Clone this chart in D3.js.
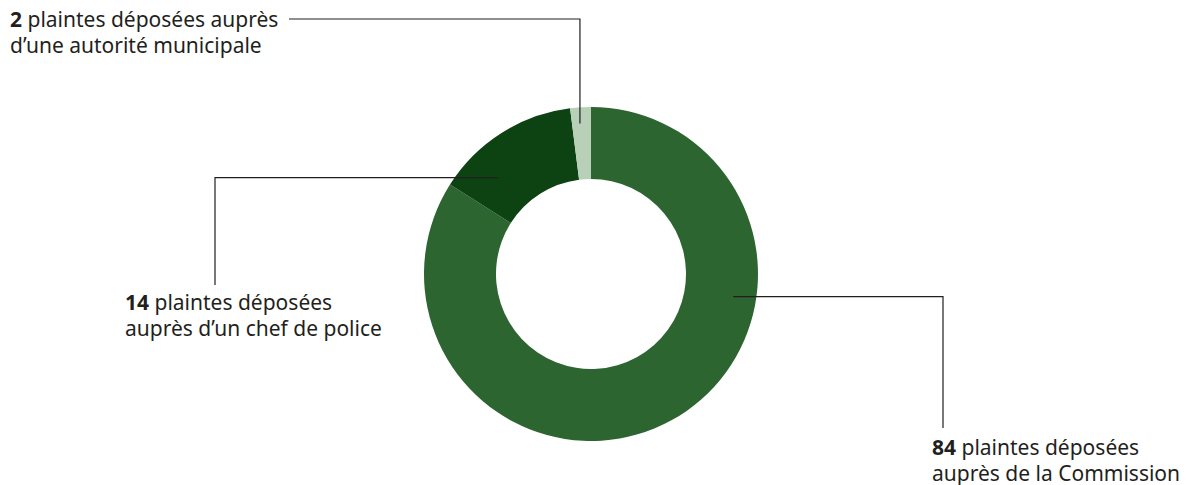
<!DOCTYPE html>
<html>
<head>
    <meta charset="UTF-8">
    <title>Plaintes</title>
    <script src="https://cdn.jsdelivr.net/npm/d3@7"></script>
    <style>
        body { margin: 0; background: #fff; }
        text { font-family: "Noto Sans", "Open Sans", sans-serif; fill: #231f20; }
    </style>
</head>
<body>
<script>

    var width = 1189,
        height = 485;

    // données
    var counts = [84, 14, 2];
    var boldLabels = ["84", "14", "2"];
    var line1 = [" plaintes déposées", " plaintes déposées", " plaintes déposées auprès"];
    var line2 = ["auprès de la Commission", "auprès d’un chef de police", "d’une autorité municipale"];
    var colors = ["#2d6530", "#0d4213", "#b8cfb8"];

    var cx = 591, cy = 274,
        outerR = 167, innerR = 95;

    var svg = d3.select("body").append("svg")
        .attr("width", width)
        .attr("height", height);

    var pie = d3.pie().sort(null).value(function(d) { return d; });
    var arc = d3.arc().innerRadius(innerR).outerRadius(outerR);

    var arcs = pie(counts);

    var g = svg.append("g")
        .attr("transform", "translate(" + cx + "," + cy + ")");

    g.selectAll("path")
        .data(arcs)
        .enter()
        .append("path")
        .attr("d", arc)
        .style("fill", function(d, i) { return colors[i]; });

    // lignes de rappel : point d'ancrage sur l'anneau (angle, rayon) puis coude
    var anchors = [
        { a: 99, r: 144, elbow: [943, 296], end: [943, 428], text: [932, 455] },
        { a: 316, r: 134, elbow: [215, 178], end: [215, 285], text: [125, 310] },
        { a: 355.8, r: 151, elbow: [580, 19], end: [289, 19], text: [10, 27] }
    ];

    function pt(a, r) {
        var t = a * Math.PI / 180;
        return [cx + r * Math.sin(t), cy - r * Math.cos(t)];
    }

    anchors.forEach(function(an, i) {
        var p = pt(an.a, an.r);
        var pts = i === 2 ? [p, [p[0], an.elbow[1]], an.end]
                          : [p, [an.elbow[0], p[1]], an.end];
        svg.append("path")
            .attr("d", d3.line()(pts))
            .style("fill", "none")
            .style("stroke", "#231f20")
            .style("stroke-width", 1.2);

        var t = svg.append("text")
            .attr("x", an.text[0])
            .attr("y", an.text[1])
            .style("font-size", "21px");
        t.append("tspan").style("font-weight", 700).text(boldLabels[i]);
        t.append("tspan").text(line1[i]);
        t.append("tspan")
            .attr("x", an.text[0])
            .attr("dy", 26)
            .text(line2[i]);
    });

</script>
</body>
</html>
